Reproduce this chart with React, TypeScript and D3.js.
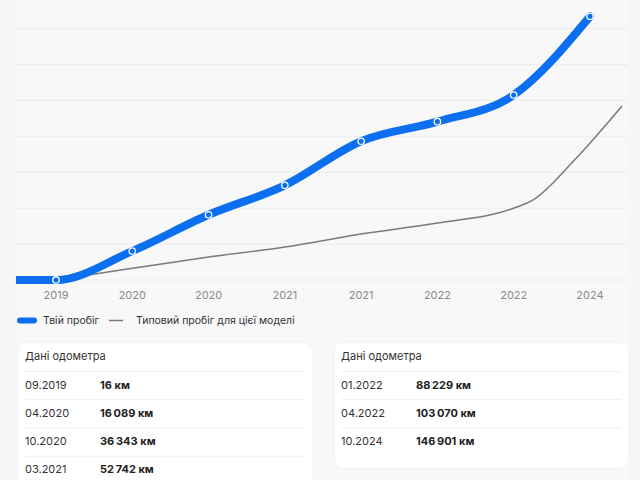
import React from "react";
import * as d3 from "d3";

const xLabels = ["2019", "2020", "2020", "2021", "2021", "2022", "2022", "2024"];
const dates = ["09.2019", "04.2020", "10.2020", "03.2021", "09.2021", "01.2022", "04.2022", "10.2024"];
const mileage = [16, 16089, 36343, 52742, 77300, 88229, 103070, 146901];
const leadInIndex = -0.55;
const leadInValue = 0;
const typicalIndex = [0, 1, 2, 3, 4, 5, 6, 6.25, 6.8, 7.42];
const typicalValues = [0, 6500, 12800, 18400, 25600, 31700, 40000, 44500, 67000, 97000];
const yTicks = [0, 20000, 40000, 60000, 80000, 100000, 120000, 140000, 160000];
const leftTableRows = [0, 1, 2, 3];
const rightTableRows = [5, 6, 7];

const BLUE = "#0b6ff0";
const W = 640;
const H = 480;

export default function App() {
  const x = d3.scaleLinear().domain([0, xLabels.length - 1]).range([56, 590]);
  const y = d3.scaleLinear().domain([0, 160000]).range([280, -7.2]);
  const plotLeft = 16;
  const plotRight = 628;

  const bluePts: [number, number][] = [[leadInIndex, leadInValue], ...mileage.map((v, i) => [i, v] as [number, number])];
  const blueLine = d3
    .line<[number, number]>()
    .x((d) => x(d[0]))
    .y((d) => y(d[1]))
    .curve(d3.curveMonotoneX)(bluePts);
  const greyPts: [number, number][] = typicalIndex.map((t, i) => [t, typicalValues[i]]);
  const greyLine = d3
    .line<[number, number]>()
    .x((d) => x(d[0]))
    .y((d) => y(d[1]))
    .curve(d3.curveMonotoneX)(greyPts);

  const fmt = (v: number) => d3.format(",")(v).replace(/,/g, "\u202F") + " км";

  const font = "Inter, 'Noto Sans', sans-serif";

  const card = (x0: number, w: number, rows: number[], height: number) => {
    const top = 343;
    return (
      <g key={x0}>
        <rect x={x0} y={top} width={w} height={height} rx={8} fill="#ffffff" filter="url(#sh)" />
        <text x={x0 + 6} y={top + 13} dy="0.35em" fontSize={11} fill="#333" fontFamily={font}>
          Дані одометра
        </text>
        {rows.map((idx, r) => {
          const sepY = top + 28.5 + r * 28.2;
          return (
            <g key={idx}>
              <line x1={x0 + 6} x2={x0 + w - 7} y1={sepY} y2={sepY} stroke="#efefef" strokeWidth={1} />
              <text x={x0 + 6} y={sepY + 13.5} dy="0.35em" fontSize={11} fill="#333" fontFamily={font}>
                {dates[idx]}
              </text>
              <text x={x0 + 81} y={sepY + 13.5} dy="0.35em" fontSize={11} fontWeight={700} fill="#222" fontFamily={font}>
                {fmt(mileage[idx])}
              </text>
            </g>
          );
        })}
      </g>
    );
  };

  return (
    <svg width={W} height={H} style={{ position: "absolute", left: 0, top: 0 }}>
      <defs>
        <clipPath id="plot">
          <rect x={plotLeft} y={-20} width={plotRight - plotLeft} height={310} />
        </clipPath>
        <filter id="sh" x="-5%" y="-10%" width="110%" height="120%">
          <feDropShadow dx="0" dy="0.5" stdDeviation="1" floodColor="#000" floodOpacity="0.05" />
        </filter>
      </defs>
      <rect x={0} y={0} width={W} height={H} fill="#f5f5f5" />
      <rect x={plotLeft} y={0} width={plotRight - plotLeft + 2} height={H} fill="#f8f8f8" />
      {yTicks.map((t) => (
        <line key={t} x1={plotLeft} x2={plotRight} y1={y(t)} y2={y(t)} stroke="#ececec" strokeWidth={1} />
      ))}
      <g clipPath="url(#plot)">
        <path d={greyLine || ""} fill="none" stroke="#7a7a7a" strokeWidth={1.5} />
        <path d={blueLine || ""} fill="none" stroke={BLUE} strokeWidth={8} strokeLinecap="round" />
        {mileage.map((v, i) => (
          <circle key={i} cx={x(i)} cy={y(v)} r={3.2} fill={BLUE} stroke="#ffffff" strokeWidth={1.3} />
        ))}
      </g>
      {xLabels.map((l, i) => (
        <text key={i} x={x(i)} y={295} dy="0.35em" textAnchor="middle" fontSize={11} fill="#8a8a8a" fontFamily={font}>
          {l}
        </text>
      ))}
      <g fontFamily={font} fontSize={10.5} fill="#333">
        <rect x={17} y={317.5} width={20} height={6} rx={3} fill={BLUE} />
        <text x={43} y={320.5} dy="0.35em">Твій пробіг</text>
        <line x1={109} x2={123} y1={320.5} y2={320.5} stroke="#7a7a7a" strokeWidth={1.5} />
        <text x={136} y={320.5} dy="0.35em">Типовий пробіг для цієї моделі</text>
      </g>
      {card(19, 293, leftTableRows, 180)}
      {card(335, 293, rightTableRows, 39 + rightTableRows.length * 28.5)}
    </svg>
  );
}
